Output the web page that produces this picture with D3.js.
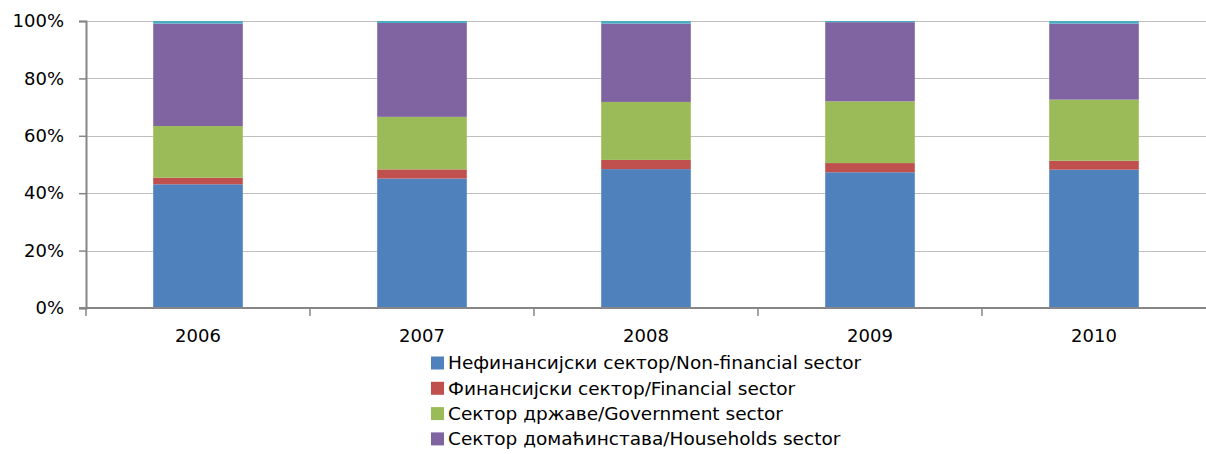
<!DOCTYPE html>
<html>
<head>
<meta charset="utf-8">
<script src="https://cdn.jsdelivr.net/npm/d3@7"></script>
<style>
  body { margin: 0; background: #fff; }
  svg { display: block; font-family: "DejaVu Sans", sans-serif; }
</style>
</head>
<body>
<svg id="chart" width="1206" height="454"></svg>
<script>
const years = ["2006", "2007", "2008", "2009", "2010"];
const nonFinancial = [43.1, 45.1, 48.4, 47.3, 48.2];
const financial    = [2.3, 3.2, 3.2, 3.2, 3.1];
const government   = [18.0, 18.3, 20.2, 21.5, 21.3];
const households   = [35.7, 32.7, 27.3, 27.6, 26.5];
const other        = [0.9, 0.7, 0.9, 0.4, 0.9];
const yTicks = [0, 20, 40, 60, 80, 100];

const seriesNames = [
  "Нефинансијски сектор/Non-financial sector",
  "Финансијски сектор/Financial sector",
  "Сектор државе/Government sector",
  "Сектор домаћинстава/Households sector",
  ""
];
const seriesData = [nonFinancial, financial, government, households, other];
const colors = ["#4F81BD", "#C0504D", "#9BBB59", "#8064A2", "#4BACC6"];
const keys = ["nf", "fin", "gov", "hh", "oth"];

const table = years.map((yr, i) => {
  const row = { year: yr };
  keys.forEach((k, j) => row[k] = seriesData[j][i]);
  return row;
});

const svg = d3.select("#chart");
const mLeft = 86, mRight = 1206, mTop = 21, mBottom = 308;
const FONT = '"DejaVu Sans", sans-serif';

const x = d3.scaleBand().domain(years).range([mLeft, mRight]).paddingInner(0.6).paddingOuter(0.3);
const xb = d3.scaleBand().domain(years).range([mLeft, mRight]).padding(0);
const y = d3.scaleLinear().domain([0, 100]).range([mBottom, mTop]);

// gridlines
svg.append("g").selectAll("line").data(yTicks.filter(d => d > 0)).join("line")
  .attr("x1", mLeft).attr("x2", mRight)
  .attr("y1", d => Math.round(y(d)) + 0.5).attr("y2", d => Math.round(y(d)) + 0.5)
  .attr("stroke", "#BFBFBF").attr("stroke-width", 1);

// bars
const stack = d3.stack().keys(keys)(table);
svg.append("g").selectAll("g").data(stack).join("g")
  .attr("fill", (d, i) => colors[i])
  .selectAll("rect").data(d => d).join("rect")
  .attr("x", d => x(d.data.year))
  .attr("width", x.bandwidth())
  .attr("y", d => y(d[1]))
  .attr("height", d => y(d[0]) - y(d[1]));

// y axis
const yAxis = svg.append("g").attr("transform", `translate(${mLeft},0)`)
  .call(d3.axisLeft(y).tickValues(yTicks).tickFormat(d => d + "%").tickSize(7).tickPadding(15));
yAxis.select(".domain").attr("stroke", "#868686").attr("stroke-width", 2);
yAxis.selectAll(".tick line").attr("stroke", "#868686").attr("stroke-width", 1.5);
yAxis.selectAll("text").attr("font-size", 18).attr("fill", "#000").attr("font-family", FONT);

// x axis
const xAxis = svg.append("g").attr("transform", `translate(0,${mBottom})`);
xAxis.append("line").attr("x1", mLeft - 7).attr("x2", mRight).attr("y1", 0).attr("y2", 0)
  .attr("stroke", "#868686").attr("stroke-width", 2);
xAxis.selectAll("line.sep").data(years).join("line").attr("class", "sep")
  .attr("x1", d => xb(d)).attr("x2", d => xb(d)).attr("y1", 0).attr("y2", 8)
  .attr("stroke", "#868686").attr("stroke-width", 1.5);
xAxis.selectAll("text").data(years).join("text")
  .attr("x", d => x(d) + x.bandwidth() / 2).attr("y", 34)
  .attr("text-anchor", "middle").attr("font-size", 18).attr("fill", "#000")
  .attr("font-family", FONT)
  .text(d => d);

// legend
const legend = svg.append("g").attr("transform", "translate(431,363)");
const items = seriesNames.slice(0, 4);
const lg = legend.selectAll("g").data(items).join("g")
  .attr("transform", (d, i) => `translate(0,${i * 25.3})`);
lg.append("rect").attr("x", 0).attr("y", -6.5).attr("width", 13).attr("height", 13)
  .attr("fill", (d, i) => colors[i]);
lg.append("text").attr("x", 17).attr("y", 0).attr("dy", "0.35em")
  .attr("font-size", 18.5).attr("fill", "#000").attr("font-family", FONT).text(d => d);
</script>
</body>
</html>
